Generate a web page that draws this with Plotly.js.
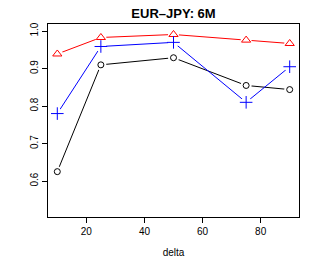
<!DOCTYPE html>
<html><head><meta charset="utf-8">
<script src="https://cdn.plot.ly/plotly-3.0.1.min.js"></script>
<style>body{margin:0;padding:0;background:#fff}#p{width:313px;height:261px}</style>
</head><body><div id="p"></div>
<script>
const delta = [10, 25, 50, 75, 90];
const seriesBlack = [0.625, 0.910, 0.929, 0.855, 0.844];
const seriesRed = [0.939, 0.983, 0.991, 0.976, 0.967];
const seriesBlue = [0.780, 0.959, 0.970, 0.810, 0.905];
const xTicks = [20, 40, 60, 80];
const yTicks = [0.6, 0.7, 0.8, 0.9, 1.0];
const yTickText = ["0.6", "0.7", "0.8", "0.9", "1.0"];

const defs = [
  {y: seriesBlack, color: '#000000', symbol: 'circle-open', size: 6},
  {y: seriesRed, color: '#FF0000', symbol: 'triangle-up-open', size: 8},
  {y: seriesBlue, color: '#0000FF', symbol: 'cross-thin-open', size: 9}
];
const traces = [];
defs.forEach(d => {
  traces.push({x: delta, y: d.y, mode: 'lines', line: {color: d.color, width: 1}, hoverinfo: 'skip'});
  traces.push({x: delta, y: d.y, mode: 'markers', marker: {symbol: 'circle', color: '#ffffff', size: 11}, hoverinfo: 'skip'});
  traces.push({x: delta, y: d.y, mode: 'markers', marker: {symbol: d.symbol, color: d.color, size: d.size, line: {color: d.color, width: 1}}});
});

const layout = {
  width: 313, height: 261,
  margin: {l: 48, r: 14, t: 24, b: 44},
  showlegend: false,
  paper_bgcolor: '#fff', plot_bgcolor: '#fff',
  font: {family: 'Liberation Sans, Arial, sans-serif', color: '#000', size: 10},
  title: {text: '<b>EUR\u2013JPY: 6M</b>', x: 0.5, xanchor: 'center', xref: 'paper', y: 0.95, yanchor: 'middle', font: {size: 13}},
  xaxis: {
    range: [6.8, 93.2], tickvals: xTicks, ticktext: xTicks.map(String),
    showgrid: false, zeroline: false, showline: true, mirror: true, linecolor: '#000', linewidth: 1,
    ticks: 'outside', ticklen: 5, tickcolor: '#000',
    title: {text: 'delta', font: {size: 10}, standoff: 12}
  },
  yaxis: {
    range: [0.504, 1.019], tickvals: yTicks, ticktext: yTickText, tickangle: -90,
    showgrid: false, zeroline: false, showline: true, mirror: true, linecolor: '#000', linewidth: 1,
    ticks: 'outside', ticklen: 5, tickcolor: '#000'
  }
};
Plotly.newPlot('p', traces, layout, {displayModeBar: false, staticPlot: true});
</script></body></html>
